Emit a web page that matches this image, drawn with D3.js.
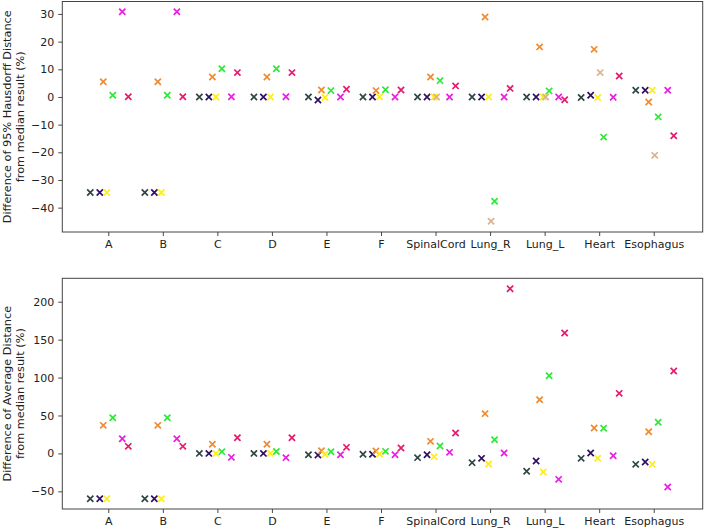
<!DOCTYPE html>
<html>
<head>
<meta charset="utf-8">
<script src="https://cdn.jsdelivr.net/npm/d3@7"></script>
<style>
  html, body { margin: 0; padding: 0; background: #fff; }
  svg { display: block; }
  text { font-family: "DejaVu Sans", sans-serif; fill: #222; }
</style>
</head>
<body>
<svg id="chart" width="706" height="531"></svg>
<script>
// ---------- data ----------
const categories = ["A", "B", "C", "D", "E", "F", "SpinalCord", "Lung_R", "Lung_L", "Heart", "Esophagus"];

const seriesNames  = ["s1", "s2", "s3", "s4", "s5", "s6", "s7", "s8"];
const seriesColors = ["#2f4545", "#2e0f63", "#f08a30", "#ffee10", "#d8b48e", "#2ee838", "#e81ee0", "#e6196e"];
const seriesOffsets = [-0.33, -0.156, -0.092, -0.027, 0.018, 0.082, 0.257, 0.367];

// top panel: Difference of 95% Hausdorff Distance (%)
const hd_s1 = [-34.5, -34.5, 0, 0, 0, 0, 0, 0, 0, -0.2, 2.4];
const hd_s2 = [-34.5, -34.5, 0, 0, -1.1, 0, 0, 0, 0, 0.6, 2.4];
const hd_s3 = [5.5, 5.5, 7.2, 7.2, 2.5, 2.3, 7.2, 28.9, 18.1, 17.2, -1.8];
const hd_s4 = [-34.5, -34.5, 0, 0, -0.2, 0.1, 0, 0, 0, -0.2, 2.4];
const hd_s5 = [null, null, null, null, null, null, 0, -44.9, 0, 8.8, -21.1];
const hd_s6 = [0.6, 0.6, 10.2, 10.2, 2.3, 2.6, 5.9, -37.7, 2.2, -14.5, -7.2];
const hd_s7 = [30.8, 30.8, 0.1, 0.1, 0, 0, 0, 0, 0, -0.1, 2.4];
const hd_s8 = [0.1, 0.1, 8.8, 8.8, 2.8, 2.5, 4.0, 3.1, -1.0, 7.6, -14.0];
const hdTicks = [-40, -30, -20, -10, 0, 10, 20, 30];

// bottom panel: Difference of Average Distance (%)
const ad_s1 = [-59.7, -59.7, 0, 0, -1.7, -1.2, -5.6, -12.2, -23.6, -6.5, -14.4];
const ad_s2 = [-59.7, -59.7, 0, 0, -2.2, -1.2, -1.7, -6.5, -10.0, 0.5, -11.3];
const ad_s3 = [37.0, 37.0, 12.0, 12.0, 3.6, 3.2, 15.9, 52.4, 70.8, 33.5, 28.6];
const ad_s4 = [-59.7, -59.7, 0, 0, -1.2, -0.8, -4.3, -14.0, -24.5, -6.5, -14.4];
const ad_s5 = [null, null, null, null, null, null, null, null, null, null, null];
const ad_s6 = [47.1, 47.1, 2.3, 2.6, 2.2, 2.7, 9.7, 18.1, 102.5, 33.1, 41.0];
const ad_s7 = [19.4, 19.4, -5.2, -5.6, -1.7, -1.7, 1.4, 0.5, -34.2, -3.0, -44.3];
const ad_s8 = [9.3, 9.3, 20.7, 20.7, 8.0, 7.1, 26.9, 217.2, 158.8, 79.2, 108.6];
const adTicks = [-50, 0, 50, 100, 150, 200];

// ---------- drawing ----------
const svg = d3.select("#chart");
const xLeft = 62.3, xRight = 702.7;
const x = d3.scaleLinear().domain([-0.843, 10.898]).range([xLeft, xRight]);

function panel(cfg) {
  const y = d3.scaleLinear().domain(cfg.domain).range([cfg.bottom, cfg.top]);
  const g = svg.append("g");

  // y axis
  const yAxis = d3.axisLeft(y).tickValues(cfg.ticks).tickSize(4).tickPadding(4)
    .tickFormat(d3.format("d"));
  const ya = g.append("g").attr("transform", `translate(${xLeft},0)`).call(yAxis);
  ya.select(".domain").remove();
  ya.selectAll(".tick line").attr("stroke", "#333").attr("stroke-width", 0.9);
  ya.selectAll(".tick text").attr("font-size", 11).attr("fill", "#222")
    .attr("font-family", "DejaVu Sans, sans-serif");

  // x axis
  const xAxis = d3.axisBottom(x).tickValues(d3.range(categories.length))
    .tickFormat(i => categories[i]).tickSize(4).tickPadding(4);
  const xa = g.append("g").attr("transform", `translate(0,${cfg.bottom})`).call(xAxis);
  xa.select(".domain").remove();
  xa.selectAll(".tick line").attr("stroke", "#333").attr("stroke-width", 0.9);
  xa.selectAll(".tick text").attr("font-size", 11).attr("fill", "#222")
    .attr("font-family", "DejaVu Sans, sans-serif");

  // frame
  g.append("rect")
    .attr("x", xLeft).attr("y", cfg.top)
    .attr("width", xRight - xLeft).attr("height", cfg.bottom - cfg.top)
    .attr("fill", "none").attr("stroke", "#444").attr("stroke-width", 1);

  // y label
  const cy = (cfg.top + cfg.bottom) / 2;
  const lab = g.append("text")
    .attr("transform", `translate(11,${cy}) rotate(-90)`)
    .attr("text-anchor", "middle").attr("font-size", 11.3).attr("fill", "#222");
  lab.append("tspan").attr("x", 0).attr("dy", 0).text(cfg.label[0]);
  lab.append("tspan").attr("x", 0).attr("dy", 13.4).text(cfg.label[1]);

  // markers
  const r = 3.1;
  cfg.series.forEach((vals, si) => {
    const pts = vals.map((v, ci) => ({ v, ci })).filter(d => d.v !== null);
    g.append("g").selectAll("path").data(pts).join("path")
      .attr("d", d => {
        const cx = x(d.ci + seriesOffsets[si]);
        const yy = y(d.v);
        return `M${cx - r},${yy - r}L${cx + r},${yy + r}M${cx - r},${yy + r}L${cx + r},${yy - r}`;
      })
      .attr("stroke", seriesColors[si]).attr("stroke-width", 1.7).attr("fill", "none");
  });
}

panel({
  top: 1.5, bottom: 232, domain: [-48.8, 34.5], ticks: hdTicks,
  label: ["Difference of 95% Hausdorff Distance", "from median result (%)"],
  series: [hd_s1, hd_s2, hd_s3, hd_s4, hd_s5, hd_s6, hd_s7, hd_s8]
});
panel({
  top: 278.3, bottom: 509, domain: [-73.3, 230.9], ticks: adTicks,
  label: ["Difference of Average Distance", "from median result (%)"],
  series: [ad_s1, ad_s2, ad_s3, ad_s4, ad_s5, ad_s6, ad_s7, ad_s8]
});
</script>
</body>
</html>
